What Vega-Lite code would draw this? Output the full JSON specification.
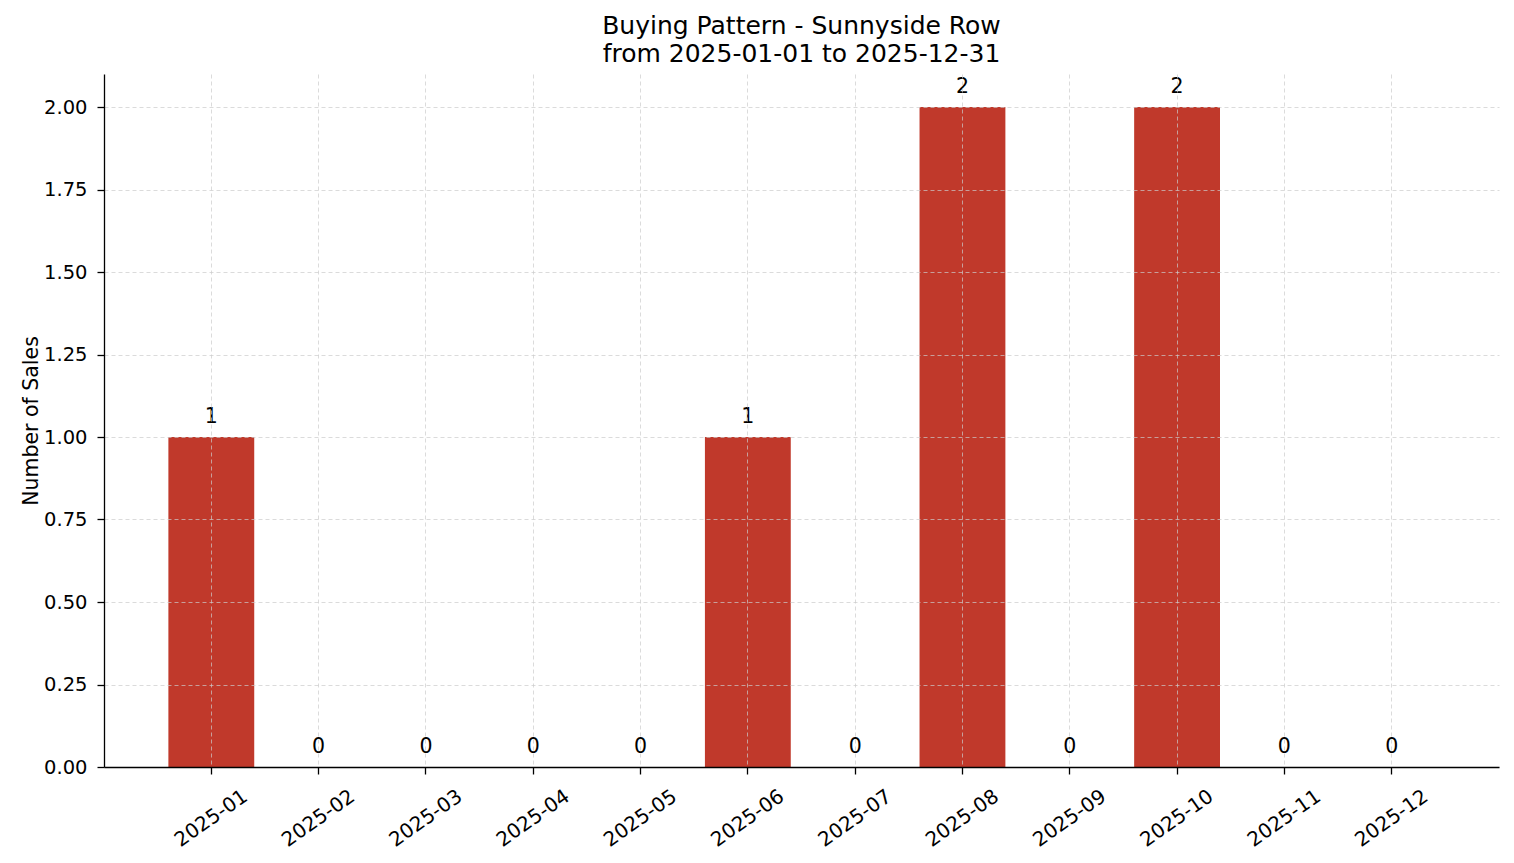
{
  "$schema": "https://vega.github.io/schema/vega-lite/v6.json",
  "autosize": "none",
  "width": 1395,
  "height": 693,
  "padding": {"left": 104, "top": 74, "right": 15, "bottom": 96},
  "background": "white",
  "config": {
    "font": "DejaVu Sans",
    "view": {"stroke": null}
  },
  "title": {
    "text": ["Buying Pattern - Sunnyside Row", "from 2025-01-01 to 2025-12-31"],
    "fontSize": 25,
    "fontWeight": "normal",
    "color": "black",
    "anchor": "middle",
    "offset": 7,
    "lineHeight": 28
  },
  "data": {
    "values": [
      {"month": "2025-01", "sales": 1},
      {"month": "2025-02", "sales": 0},
      {"month": "2025-03", "sales": 0},
      {"month": "2025-04", "sales": 0},
      {"month": "2025-05", "sales": 0},
      {"month": "2025-06", "sales": 1},
      {"month": "2025-07", "sales": 0},
      {"month": "2025-08", "sales": 2},
      {"month": "2025-09", "sales": 0},
      {"month": "2025-10", "sales": 2},
      {"month": "2025-11", "sales": 0},
      {"month": "2025-12", "sales": 0}
    ]
  },
  "encoding": {
    "x": {
      "field": "month",
      "type": "ordinal",
      "scale": {"paddingInner": 0.2, "paddingOuter": 0.6},
      "axis": {
        "title": null,
        "labelAngle": -35,
        "labelAlign": "center",
        "labelBaseline": "middle",
        "labelFontSize": 20,
        "labelColor": "black",
        "labelPadding": 44,
        "tickSize": 7,
        "tickWidth": 1.3,
        "tickColor": "black",
        "domainColor": "black",
        "domainWidth": 1.3,
        "grid": true,
        "bandPosition": 0.5,
        "gridColor": "#cccccc",
        "gridDash": [4, 3],
        "gridWidth": 0.7,
        "zindex": 1
      }
    },
    "y": {
      "field": "sales",
      "type": "quantitative",
      "scale": {"domain": [0, 2.1], "nice": false},
      "axis": {
        "title": "Number of Sales",
        "titleFontSize": 20.5,
        "titleFontWeight": "normal",
        "titleColor": "black",
        "titlePadding": 2,
        "values": [0, 0.25, 0.5, 0.75, 1, 1.25, 1.5, 1.75, 2],
        "format": ".2f",
        "labelFontSize": 19.5,
        "labelColor": "black",
        "labelPadding": 10,
        "tickSize": 7,
        "tickWidth": 1.3,
        "tickColor": "black",
        "domainColor": "black",
        "domainWidth": 1.3,
        "gridColor": "#cccccc",
        "gridDash": [4, 3],
        "gridWidth": 0.7,
        "zindex": 1
      }
    }
  },
  "layer": [
    {
      "mark": {"type": "bar", "color": "#c0392b"}
    },
    {
      "mark": {"type": "text", "baseline": "alphabetic", "dy": -14, "fontSize": 20.5, "color": "black"},
      "encoding": {"text": {"field": "sales", "type": "quantitative"}}
    }
  ]
}
